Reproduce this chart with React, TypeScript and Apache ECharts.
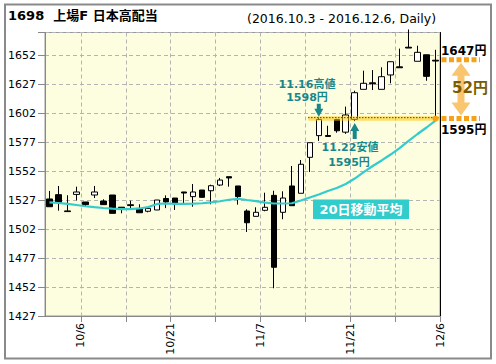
import React, { useEffect, useRef } from 'react';
import * as echarts from 'echarts';

const dates = ['10/3','10/4','10/5','10/6','10/7','10/11','10/12','10/13','10/14','10/17','10/18','10/19','10/20','10/21','10/24','10/25','10/26','10/27','10/28','10/31','11/1','11/2','11/4','11/7','11/8','11/9','11/10','11/11','11/14','11/15','11/16','11/17','11/18','11/21','11/22','11/24','11/25','11/28','11/29','11/30','12/1','12/2','12/5','12/6'];

const opens = [1527.9,1531.6,1517.6,1531.8,1525.3,1531.3,1526.1,1531.3,1520.8,1522.9,1519.2,1517.3,1518.4,1528.3,1528.7,1533.9,1529.9,1535.6,1535,1539.9,1547.1,1539.1,1517.5,1512.9,1518.1,1531,1516.4,1539.1,1532.8,1563.8,1582.5,1582.6,1596.4,1585.5,1596.5,1622.4,1628,1622.4,1634.8,1641.8,1658.7,1646.6,1652.2,1647.5];
const closes = [1521.2,1525,1517,1533.9,1523,1533.9,1523,1515.5,1520,1522.2,1516,1519.8,1527,1525.3,1523.8,1533,1533.9,1529.3,1539.3,1544.2,1546,1529.9,1507.4,1516.4,1520.7,1469,1528.7,1522.1,1557.8,1576.4,1596.5,1581.8,1586.7,1600.3,1619.5,1627.6,1627.2,1633.3,1646.2,1641,1658,1654.3,1633.6,1646.8];
const lows = [1521,1517.8,1517,1526.7,1521.8,1528.7,1523,1515.5,1515.5,1520,1516,1516.4,1518.4,1520,1518.4,1523.6,1521.2,1529.3,1523.3,1539,1538.5,1523,1499.4,1512.9,1517.3,1450.9,1510.4,1522.1,1532.8,1551.1,1578,1581.8,1585,1584,1595,1622.4,1621.8,1622.4,1627.6,1641,1658,1646.6,1629.8,1596.5];
const highs = [1534.8,1539.1,1531.1,1538.5,1525.3,1539.1,1527.6,1531.3,1520.8,1526.4,1523.3,1521,1527,1531,1528.7,1534,1540.8,1535.6,1540.2,1546,1547.1,1539.1,1519,1520.7,1533.3,1535,1534.5,1556.3,1561.5,1576.4,1598,1591,1597,1607.5,1621.2,1638.5,1639,1641.4,1646.5,1657.5,1674,1660,1652.2,1656.5];

const ma20 = [1525.0,1524.4,1523.6,1522.7,1521.6,1520.8,1520.1,1519.5,1519.2,1519.2,1519.7,1521.0,1523.6,1524.0,1523.6,1523.6,1523.8,1524.2,1525.0,1525.9,1527.2,1528.1,1527.0,1526.1,1524.8,1524.0,1524.0,1524.2,1526.6,1529.2,1531.7,1534.8,1537.3,1540.8,1545.5,1551.1,1556.3,1561.1,1566.2,1571.8,1577.9,1583.9,1589.5,1595.5];

const yMin = 1427;
const yMax = 1671.4;
const yStep = 25;

// boundaries between trading days (for ticks / grid / labels)
const boundaryLabels = ['', ...dates];

const FONT = "'DejaVu Sans', 'Noto Sans CJK JP', sans-serif";
const TEAL = '#17878a';
const ORANGE = '#f5a21a';

export default function App() {
  const ref = useRef<HTMLDivElement>(null);

  useEffect(() => {
    document.body.style.margin = '0';
    const chart = echarts.init(ref.current!, null, { renderer: 'svg', width: 496, height: 364 });
    const candleData = dates.map((_, i) => [opens[i], closes[i], lows[i], highs[i]]);

    chart.setOption({
      animation: false,
      backgroundColor: '#ffffff',
      grid: {
        left: 45, right: 56, top: 32.5, bottom: 48,
        show: true, backgroundColor: '#fdfde0', borderColor: '#999', borderWidth: 1,
      },
      xAxis: [
        { type: 'category', data: dates, boundaryGap: true, show: false },
        {
          type: 'category', data: boundaryLabels, boundaryGap: false, position: 'bottom',
          axisLine: { show: true, lineStyle: { color: '#888', width: 1 } },
          axisTick: { show: true, length: 6, interval: (i: number) => i % 5 === 4, lineStyle: { color: '#888' } },
          axisLabel: {
            show: true, interval: (i: number) => i % 10 === 4, rotate: 90, margin: 7,
            fontSize: 11, fontFamily: FONT, color: '#000', verticalAlign: 'middle', padding: [0, 0, 5, 0],
          },
          splitLine: { show: true, interval: (i: number) => i % 5 === 4, lineStyle: { color: '#b4b4b4', type: [4, 3] } },
        },
      ],
      yAxis: [
        {
          type: 'value', min: yMin, max: yMax, interval: yStep,
          axisLine: { show: true, lineStyle: { color: '#888' } },
          axisTick: { show: true, length: 7, lineStyle: { color: '#888' } },
          axisLabel: {
            margin: 9, fontSize: 11, fontFamily: FONT, color: '#000',
            formatter: (v: number) => (v > yMax - 5 ? '' : String(Math.round(v))),
          },
          splitLine: { show: true, lineStyle: { color: '#b4b4b4', type: [4, 3] } },
        },
        {
          type: 'value', min: yMin, max: yMax, position: 'right',
          axisLine: { show: true, lineStyle: { color: '#000' } },
          axisTick: { show: false }, axisLabel: { show: false }, splitLine: { show: false },
        },
      ],
      series: [
        {
          type: 'candlestick', xAxisIndex: 0, yAxisIndex: 0, data: candleData, barWidth: 6, clip: true,
          itemStyle: { color: '#ffffff', color0: '#000000', borderColor: '#000000', borderColor0: '#000000', borderWidth: 1 },
          z: 2,
        },
        {
          type: 'line', xAxisIndex: 0, yAxisIndex: 0, data: ma20, symbol: 'none', smooth: false,
          lineStyle: { color: '#33cccc', width: 2.2 }, z: 3,
        },
      ],
    });

    const yp = (v: number) => chart.convertToPixel({ yAxisIndex: 0 }, v) as number;
    const xp = (i: number) => chart.convertToPixel({ xAxisIndex: 0 }, dates[i]) as number;
    const right = chart.convertToPixel({ xAxisIndex: 1 }, dates[dates.length - 1]) as number;
    const last = dates.length - 1;
    const hiIdx = 30; // 11/16 high
    const loIdx = 34; // 11/22 low
    const hiVal = highs[hiIdx];
    const loVal = lows[loIdx];
    const lastClose = 1647;

    const txt = (text: string, x: number, y: number, size: number, color: string, align = 'center', weight = 'bold') => ({
      type: 'text', x, y, z: 100,
      style: {
        text, fill: color, fontSize: size, fontWeight: weight, fontFamily: FONT,
        align, textAlign: align, verticalAlign: 'middle', textVerticalAlign: 'middle',
      },
    });

    // band between 11/16 high and 11/22 low
    const bandTop = yp(hiVal) - 1.3;
    const bandBot = yp(loVal) - 0.4;
    const bandLeft = xp(29) - 1.5;

    // down arrow to 11/16 high
    const ax = xp(hiIdx);
    const at = yp(hiVal) - 1;
    const downArrow = [[ax - 2, at - 13], [ax + 2, at - 13], [ax + 2, at - 8], [ax + 4.5, at - 8], [ax, at], [ax - 4.5, at - 8], [ax - 2, at - 8]];
    // up arrow to 11/22 low
    const bx = xp(loIdx);
    const bt = yp(loVal) + 2;
    const upArrow = [[bx, bt], [bx + 4.5, bt + 8], [bx + 2, bt + 8], [bx + 2, bt + 16], [bx - 2, bt + 16], [bx - 2, bt + 8], [bx - 4.5, bt + 8]];

    // orange difference annotation
    const y1 = yp(lastClose) - 1;
    const y2 = yp(loVal) - 2.5;
    const cx = 461;
    const t1 = y1 + 3;
    const t2 = y2 - 3;
    const dbl = [
      [cx, t1], [cx + 9.5, t1 + 13], [cx + 3.5, t1 + 13], [cx + 3.5, t2 - 13], [cx + 9.5, t2 - 13], [cx, t2],
      [cx - 9.5, t2 - 13], [cx - 3.5, t2 - 13], [cx - 3.5, t1 + 13], [cx - 9.5, t1 + 13],
    ];

    chart.setOption({
      graphic: [
        { type: 'rect', z: 100, shape: { x: 5, y: 4.5, width: 486, height: 354 }, style: { fill: 'none', stroke: '#8a8a8a', lineWidth: 2 } },
        txt('1698  上場F 日本高配当', 8, 15.5, 13, '#000', 'left'),
        txt('(2016.10.3 - 2016.12.6, Daily)', 247, 18, 12.5, '#000', 'left', 'normal'),
        { type: 'rect', z: 100, shape: { x: bandLeft, y: bandTop, width: right - bandLeft, height: bandBot - bandTop }, style: { fill: 'rgba(255,200,0,0.55)' } },
        { type: 'line', z: 101, shape: { x1: bandLeft, y1: yp(hiVal), x2: right, y2: yp(hiVal) }, style: { stroke: '#000', lineWidth: 1, lineDash: [1, 2] } },
        { type: 'polygon', z: 100, shape: { points: downArrow }, style: { fill: TEAL } },
        { type: 'polygon', z: 100, shape: { points: upArrow }, style: { fill: TEAL } },
        txt('11.16高値', 307, 84, 11, TEAL),
        txt('1598円', 307, 97, 11, TEAL),
        txt('11.22安値', 350, 147.5, 11, TEAL),
        txt('1595円', 349, 162.5, 11, TEAL),
        { type: 'rect', z: 100, shape: { x: 313, y: 199.5, width: 96, height: 19.5 }, style: { fill: '#33cccc' } },
        txt('20日移動平均', 361, 209.5, 13, '#ffffff'),
        { type: 'line', z: 100, shape: { x1: right + 1.5, y1: y1, x2: 480, y2: y1 }, style: { stroke: ORANGE, lineWidth: 5, lineDash: [5, 2.5] } },
        { type: 'line', z: 100, shape: { x1: right + 1.5, y1: y2, x2: 480, y2: y2 }, style: { stroke: ORANGE, lineWidth: 5, lineDash: [5, 2.5] } },
        { type: 'circle', z: 101, shape: { cx: xp(last), cy: y2, r: 3 }, style: { fill: ORANGE } },
        { type: 'polygon', z: 100, shape: { points: dbl }, style: { fill: '#f9c56e' } },
        txt('1647円', 441, y1 - 8.5, 12, '#000', 'left'),
        txt('1595円', 441, y2 + 11.5, 12, '#000', 'left'),
        txt('52円', 470, (y1 + y2) / 2 - 1, 15, '#7a5c00'),
      ],
    });

    return () => chart.dispose();
  }, []);

  return <div ref={ref} style={{ width: 496, height: 364, background: '#fff' }} />;
}
